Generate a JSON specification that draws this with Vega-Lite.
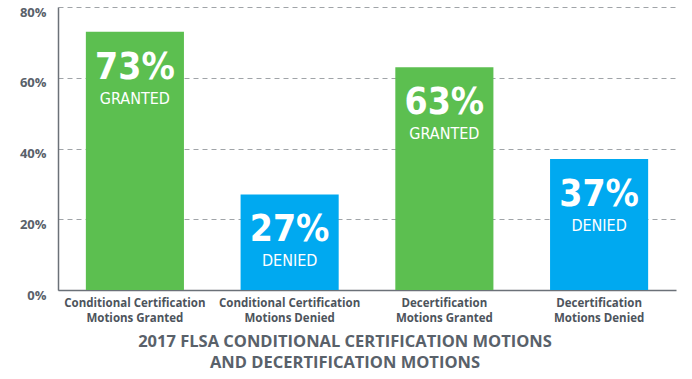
{
  "$schema": "https://vega.github.io/schema/vega-lite/v6.json",
  "width": 618,
  "height": 283,
  "autosize": {"type": "none"},
  "padding": {"left": 58, "top": 7, "right": 16, "bottom": 89},
  "background": "white",
  "title": {
    "text": ["2017 FLSA CONDITIONAL CERTIFICATION MOTIONS", "AND DECERTIFICATION MOTIONS"],
    "orient": "bottom",
    "anchor": "middle",
    "dx": -22,
    "offset": 10,
    "font": "Open Sans",
    "fontWeight": "bold",
    "fontSize": 16.5,
    "lineHeight": 21,
    "color": "#59616a"
  },
  "data": {
    "values": [
      {"category": "Conditional Certification|Motions Granted", "value": 73, "pct": "73%", "status": "GRANTED", "kind": "granted"},
      {"category": "Conditional Certification|Motions Denied", "value": 27, "pct": "27%", "status": "DENIED", "kind": "denied"},
      {"category": "Decertification|Motions Granted", "value": 63, "pct": "63%", "status": "GRANTED", "kind": "granted"},
      {"category": "Decertification|Motions Denied", "value": 37, "pct": "37%", "status": "DENIED", "kind": "denied"}
    ]
  },
  "encoding": {
    "x": {
      "field": "category",
      "type": "nominal",
      "sort": null,
      "scale": {"paddingInner": 0.366, "paddingOuter": 0.18},
      "axis": {
        "title": null,
        "labelAngle": 0,
        "labelExpr": "split(datum.label, '|')",
        "labelFont": "Open Sans",
        "labelFontWeight": "bold",
        "labelFontSize": 11.5,
        "labelLineHeight": 15,
        "labelColor": "#4d545c",
        "labelPadding": 7,
        "ticks": false,
        "domainColor": "#6b7178",
        "domainWidth": 1.5
      }
    },
    "y": {
      "field": "value",
      "type": "quantitative",
      "scale": {"domain": [0, 80]},
      "axis": {
        "title": null,
        "values": [0, 20, 40, 60, 80],
        "labelExpr": "datum.value + '%'",
        "labelFont": "Open Sans",
        "labelFontWeight": "bold",
        "labelFontSize": 13,
        "labelColor": "#59616a",
        "labelPadding": 12,
        "labelBaseline": "middle",
        "labelOffset": 5,
        "ticks": false,
        "domainColor": "#6b7178",
        "domainWidth": 1.5,
        "grid": true,
        "gridDash": [5, 4],
        "gridColor": "#a0a4a8",
        "gridWidth": 1
      }
    }
  },
  "layer": [
    {
      "mark": {"type": "bar"},
      "encoding": {
        "color": {
          "field": "kind",
          "type": "nominal",
          "scale": {"domain": ["granted", "denied"], "range": ["#5cbf50", "#00a9f0"]},
          "legend": null
        }
      }
    },
    {
      "mark": {"type": "text", "color": "white", "font": "DejaVu Sans Condensed", "fontWeight": "bold", "fontSize": 37, "baseline": "alphabetic", "dy": 47},
      "encoding": {"text": {"field": "pct"}}
    },
    {
      "mark": {"type": "text", "color": "white", "font": "DejaVu Sans Condensed", "fontWeight": "normal", "fontSize": 16, "baseline": "alphabetic", "dy": 72},
      "encoding": {"text": {"field": "status"}}
    }
  ],
  "config": {"view": {"stroke": null}}
}
